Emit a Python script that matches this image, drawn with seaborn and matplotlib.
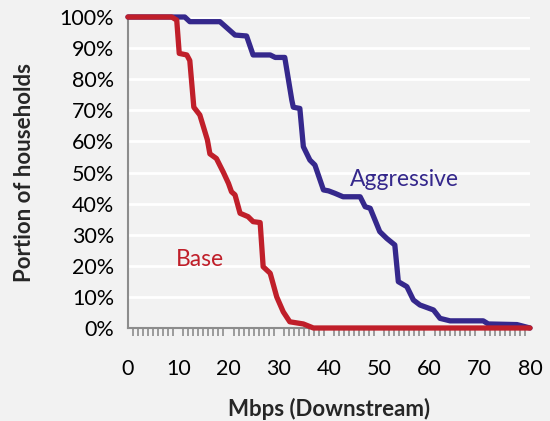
import matplotlib
matplotlib.use("Agg")
import matplotlib.pyplot as plt
import seaborn as sns
import pandas as pd
import numpy as np
from matplotlib.ticker import MultipleLocator, PercentFormatter

# Data (Mbps, portion of households)
base_x = [0, 8.7, 9.7, 10.2, 11.7, 12.3, 13.1, 14.3, 15.8, 16.3, 17.6, 19.0, 20.0, 20.6,
          21.3, 22.3, 23.9, 24.9, 26.3, 26.9, 28.3, 29.6, 30.9, 32.2, 34.9, 36.9, 80]
base_y = [1.0, 1.0, 0.99, 0.883, 0.878, 0.86, 0.71, 0.685, 0.605, 0.56, 0.545, 0.50, 0.465, 0.438,
          0.428, 0.369, 0.358, 0.342, 0.339, 0.197, 0.176, 0.10, 0.052, 0.02, 0.013, 0.0, 0.0]

aggr_x = [0, 11.3, 12.3, 18.3, 21.3, 23.6, 24.9, 28.3, 29.3, 31.2, 32.6, 32.9, 34.2, 34.9,
          36.2, 37.2, 38.9, 39.9, 41.2, 42.8, 46.2, 47.2, 48.2, 50.1, 51.5, 53.1, 53.8, 55.5,
          56.8, 58.1, 60.8, 62.1, 64.1, 70.7, 71.7, 77.4, 80]
aggr_y = [1.0, 1.0, 0.985, 0.985, 0.942, 0.939, 0.878, 0.878, 0.87, 0.87, 0.733, 0.71, 0.706, 0.583,
          0.54, 0.524, 0.444, 0.441, 0.433, 0.422, 0.422, 0.39, 0.385, 0.31, 0.288, 0.267, 0.149, 0.133,
          0.09, 0.074, 0.058, 0.031, 0.023, 0.023, 0.013, 0.011, 0.0]

series_names = ["Aggressive", "Base"]
colors = {"Aggressive": "#35288c", "Base": "#c01f2a"}

df = pd.concat([
    pd.DataFrame({"Mbps": aggr_x, "Portion": aggr_y, "Scenario": "Aggressive"}),
    pd.DataFrame({"Mbps": base_x, "Portion": base_y, "Scenario": "Base"}),
], ignore_index=True)

sns.set_theme(style="white")
plt.rcParams["font.family"] = ["Lato", "DejaVu Sans"]

fig = plt.figure(figsize=(5.5, 4.21), dpi=100, facecolor="#f2f2f2")
ax = fig.add_axes([0.2327, 0.2209, 0.7309, 0.7387])
ax.set_facecolor("#f2f2f2")

for y in np.arange(0.1, 1.01, 0.1):
    ax.axhline(y, color="white", lw=2, zorder=0)

sns.lineplot(data=df, x="Mbps", y="Portion", hue="Scenario", hue_order=series_names,
             palette=colors, linewidth=3.8, sort=False, estimator=None, legend=False,
             ax=ax, clip_on=False, zorder=3)

ax.set_xlim(0, 80)
ax.set_ylim(0, 1.0)
ax.xaxis.set_major_locator(MultipleLocator(10))
ax.xaxis.set_minor_locator(MultipleLocator(1))
ax.yaxis.set_major_locator(MultipleLocator(0.1))
ax.yaxis.set_major_formatter(PercentFormatter(1.0, decimals=0))

for s in ["top", "right"]:
    ax.spines[s].set_visible(False)
for s in ["left", "bottom"]:
    ax.spines[s].set_color("#8c8c8c")
    ax.spines[s].set_linewidth(1.5)

ax.tick_params(axis="y", which="major", direction="out", length=7, width=1.5,
               color="#8c8c8c", labelsize=15.5, pad=3, labelcolor="black")
ax.tick_params(axis="x", which="major", direction="out", length=0, labelsize=15.5,
               pad=22, labelcolor="black")
ax.tick_params(axis="x", which="minor", direction="out", length=6, width=1.2,
               color="#8c8c8c", bottom=True)

ax.set_xlabel("Mbps (Downstream)", fontsize=16, fontweight="bold", labelpad=14)
ax.set_ylabel("Portion of households", fontsize=16, fontweight="bold", labelpad=18)

ax.text(55.1, 0.479, "Aggressive", color=colors["Aggressive"], fontsize=16.5, ha="center", va="center")
ax.text(14.3, 0.219, "Base", color=colors["Base"], fontsize=16.5, ha="center", va="center")

fig.savefig("out.png", dpi=100, facecolor=fig.get_facecolor())
